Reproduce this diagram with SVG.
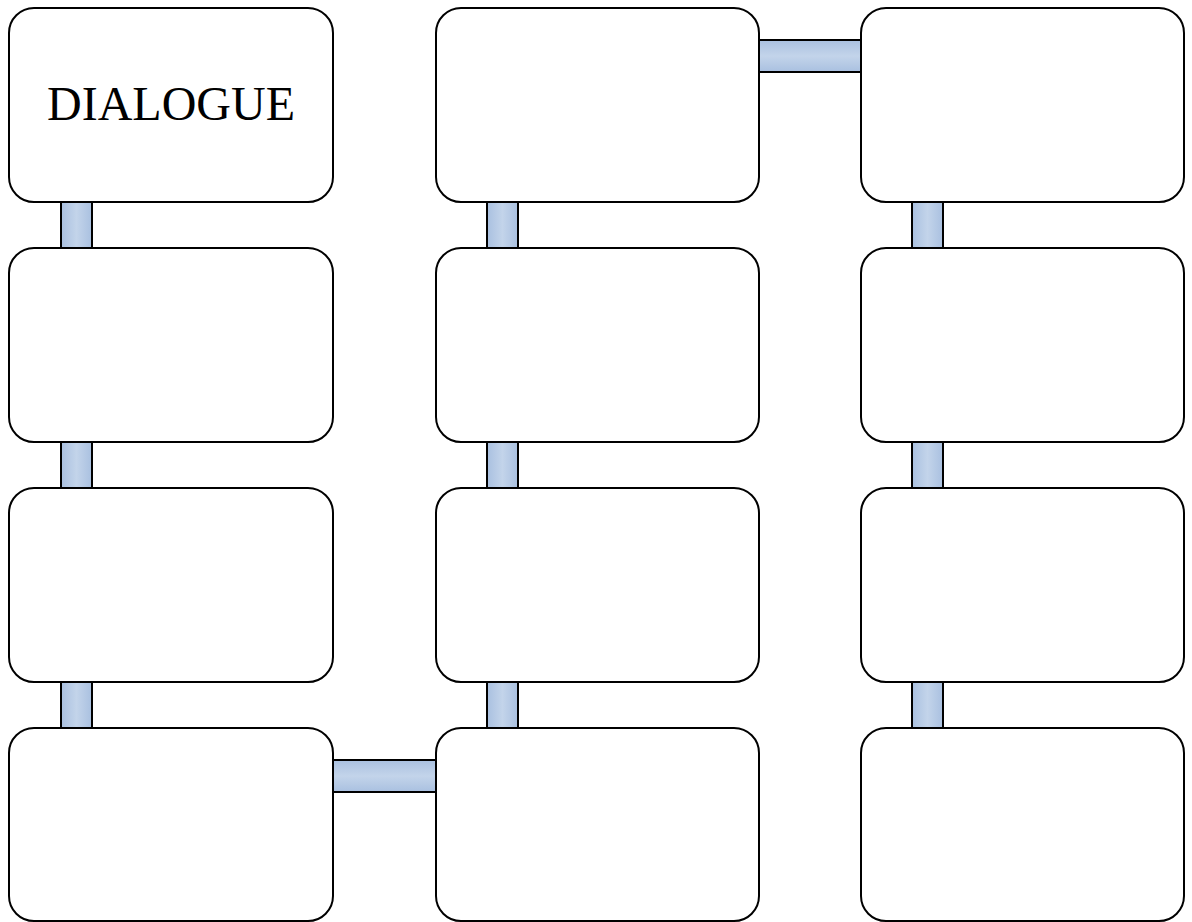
<svg xmlns="http://www.w3.org/2000/svg" width="1192" height="922" viewBox="0 0 1192 922">
<defs>
<linearGradient id="gv" x1="0" y1="0" x2="1" y2="0"><stop offset="0" stop-color="#a9c0e0"/><stop offset="0.5" stop-color="#c3d4ea"/><stop offset="1" stop-color="#a9c0e0"/></linearGradient>
<linearGradient id="gh" x1="0" y1="0" x2="0" y2="1"><stop offset="0" stop-color="#a9c0e0"/><stop offset="0.5" stop-color="#c3d4ea"/><stop offset="1" stop-color="#a9c0e0"/></linearGradient>
<style>
.box{fill:#fff;stroke:#000;stroke-width:2}
.cv{fill:url(#gv);stroke:#000;stroke-width:2}
.ch{fill:url(#gh);stroke:#000;stroke-width:2}
.t{font-family:"Liberation Serif",serif;font-size:48px;fill:#000}
</style>
</defs>
<g id="connectors">
<rect class="cv" x="61" y="202" width="31" height="46"/>
<rect class="cv" x="61" y="442" width="31" height="46"/>
<rect class="cv" x="61" y="682" width="31" height="46"/>
<rect class="cv" x="487" y="202" width="31" height="46"/>
<rect class="cv" x="487" y="442" width="31" height="46"/>
<rect class="cv" x="487" y="682" width="31" height="46"/>
<rect class="cv" x="912" y="202" width="31" height="46"/>
<rect class="cv" x="912" y="442" width="31" height="46"/>
<rect class="cv" x="912" y="682" width="31" height="46"/>
<rect class="ch" x="759" y="40" width="102" height="32"/>
<rect class="ch" x="333" y="760" width="103" height="32"/>
</g>
<g id="n1"><rect class="box" x="9" y="8" width="324" height="194" rx="25"/><text class="t" x="171" y="120" text-anchor="middle">DIALOGUE</text></g>
<g id="n2"><rect class="box" x="9" y="248" width="324" height="194" rx="25"/></g>
<g id="n3"><rect class="box" x="9" y="488" width="324" height="194" rx="25"/></g>
<g id="n4"><rect class="box" x="9" y="728" width="324" height="193" rx="25"/></g>
<g id="n5"><rect class="box" x="436" y="8" width="323" height="194" rx="25"/></g>
<g id="n6"><rect class="box" x="436" y="248" width="323" height="194" rx="25"/></g>
<g id="n7"><rect class="box" x="436" y="488" width="323" height="194" rx="25"/></g>
<g id="n8"><rect class="box" x="436" y="728" width="323" height="193" rx="25"/></g>
<g id="n9"><rect class="box" x="861" y="8" width="323" height="194" rx="25"/></g>
<g id="n10"><rect class="box" x="861" y="248" width="323" height="194" rx="25"/></g>
<g id="n11"><rect class="box" x="861" y="488" width="323" height="194" rx="25"/></g>
<g id="n12"><rect class="box" x="861" y="728" width="323" height="193" rx="25"/></g>
</svg>
